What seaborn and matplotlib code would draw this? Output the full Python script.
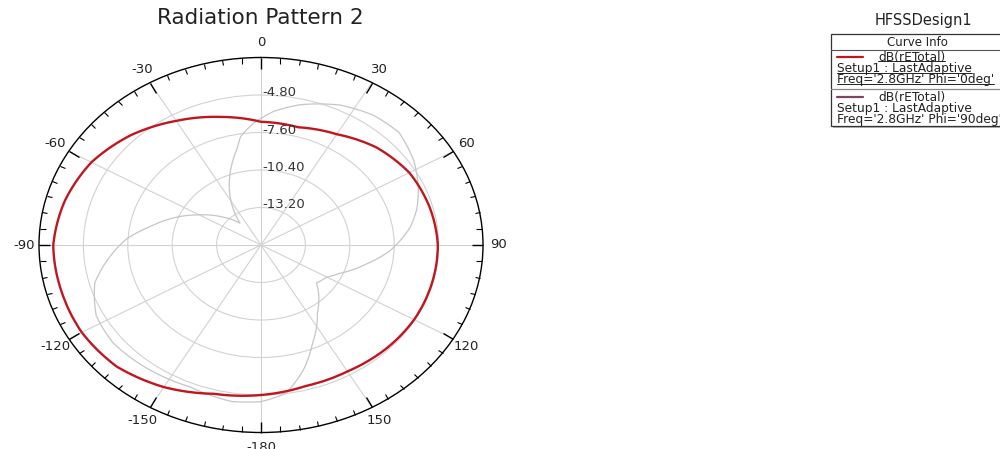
import numpy as np
import matplotlib
matplotlib.use("Agg")
import matplotlib.pyplot as plt
import matplotlib.transforms as mtransforms
from matplotlib.lines import Line2D
from matplotlib.patches import Rectangle
import seaborn as sns

# Phi = 0deg cut: angle (deg) and dB(rETotal)
red_theta = [-180, -165, -150, -135, -120, -105, -90, -75, -60, -45, -30, -15,
             0, 15, 30, 45, 60, 75, 90, 105, 120, 135, 150, 165, 180]
red_db = [-4.8, -4.5, -3.75, -3.15, -2.95, -2.95, -2.9, -3.2, -3.65, -4.4, -5.3, -6.1,
          -6.8, -6.9, -6.45, -5.7, -5.2, -5.0, -4.85, -4.85, -4.85, -4.95, -5.1, -5.1, -4.8]

# Phi = 90deg cut
gray_theta = [-180, -171, -157, -143, -128, -117, -105, -97, -87, -79, -70, -60, -50,
              -39, -31, -21, -12, -9, -3, 4.5, 13, 25.5, 36, 46, 57, 67.5, 75, 82,
              93, 102, 113, 120, 129, 145, 156, 164, 172, 180]
gray_db = [-4.3, -4.17, -4.5, -4.33, -4.15, -4.34, -5.15, -6.2, -7.5, -8.86, -10.1, -11.5, -12.7,
           -13.9, -12.4, -10.5, -8.7, -7.8, -6.9, -6.0, -5.26, -4.42, -4.0, -3.9, -4.5, -5.26, -5.84, -6.5,
           -7.85, -9.2, -10.6, -11.2, -11.5, -9.8, -8.0, -6.3, -4.8, -4.3]

ring_values = [-13.2, -10.4, -7.6, -4.8]
r_min, r_max = -16.0, -2.0

angle_ticks = [0, 30, 60, 90, 120, 150, 180, 210, 240, 270, 300, 330]
angle_labels = ["0", "30", "60", "90", "120", "150", "-180", "-150", "-120", "-90", "-60", "-30"]

legend_entries = [
    ("dB(rETotal)", "Setup1 : LastAdaptive", "Freq='2.8GHz' Phi='0deg'"),
    ("dB(rETotal)", "Setup1 : LastAdaptive", "Freq='2.8GHz' Phi='90deg'"),
]
legend_colors = ["#c0161e", "#7d4464"]

sns.set_style("white")
plt.rcParams["font.family"] = ["DejaVu Sans"]

W, H = 1000, 449
fig = plt.figure(figsize=(W / 100, H / 100), dpi=100)
fig.patch.set_facecolor("white")


def fx(x):
    return x / W


def fy(y):
    return 1 - y / H


# elliptical polar frame
ax = fig.add_axes([fx(39), fy(432.5), 444 / W, 375 / H], projection="polar")
ax.set_aspect("auto")
ax.set_facecolor("white")
ax.set_theta_zero_location("N")
ax.set_theta_direction(-1)
ax.set_ylim(r_min, r_max)

ax.set_xticks(np.deg2rad(angle_ticks))
ax.set_xticklabels(angle_labels)
ax.set_xticks(np.deg2rad(np.arange(0, 360, 5)), minor=True)
# ticks only on the outer rim
ax.tick_params(axis="x", which="both", bottom=False, top=True)
ax.tick_params(axis="x", which="major", direction="in", length=8, width=1.0,
               color="black", pad=4, labelsize=9.5, labelcolor="#222222")
ax.tick_params(axis="x", which="minor", direction="in", length=4, width=0.8, color="black")
ax.set_yticks(ring_values)
ax.set_yticklabels([])
ax.tick_params(axis="y", length=0)
ax.grid(True, which="major", color="#d2d2d2", linewidth=0.8)
ax.grid(False, which="minor")
ax.spines["polar"].set_color("black")
ax.spines["polar"].set_linewidth(1.0)

sns.lineplot(x=np.deg2rad(gray_theta), y=gray_db, ax=ax, color="#c6c6c6",
             linewidth=0.9, sort=False, estimator=None, legend=False)
sns.lineplot(x=np.deg2rad(red_theta), y=red_db, ax=ax, color="#c0161e",
             linewidth=1.7, sort=False, estimator=None, legend=False)
ax.set_xlabel("")
ax.set_ylabel("")
# draw each segment as a curve in polar space rather than a straight chord
for ln in ax.lines:
    ln.get_path()._interpolation_steps = 24

ring_tf = mtransforms.offset_copy(ax.transData, fig=fig, x=1, y=2.5, units="dots")
for rv in ring_values:
    ax.text(0, rv, f"{rv:.2f}", transform=ring_tf, ha="left", va="center",
            fontsize=9.5, color="#333333")

fig.text(fx(260), fy(18), "Radiation Pattern 2", ha="center", va="center",
         fontsize=15.5, color="#222222")

# curve info box
fig.text(fx(923), fy(21), "HFSSDesign1", ha="center", va="center", fontsize=10.5, color="#222222")
box_top, box_bot, box_left, box_right = 34, 126, 831, 1012
fig.add_artist(Rectangle((fx(box_left + 2), fy(box_bot + 2)), (box_right - box_left) / W,
                         (box_bot - box_top) / H, transform=fig.transFigure,
                         facecolor="#b8b8b8", edgecolor="none"))
fig.add_artist(Rectangle((fx(box_left), fy(box_bot)), (box_right - box_left) / W,
                         (box_bot - box_top) / H, transform=fig.transFigure,
                         facecolor="white", edgecolor="#333333", linewidth=0.9))
fig.add_artist(Line2D([fx(box_left), fx(box_right)], [fy(49.5), fy(49.5)],
                      transform=fig.transFigure, color="#555555", linewidth=0.8))
fig.add_artist(Line2D([fx(box_left), fx(box_right)], [fy(88.5), fy(88.5)],
                      transform=fig.transFigure, color="#888888", linewidth=0.9))
fig.text(fx(917), fy(42), "Curve Info", ha="center", va="center", fontsize=8.5, color="#222222")

row_y = [(57, 68.5, 80), (97, 108.5, 120)]
underlined = []
for (name, setup, freq), color, ys, sel in zip(legend_entries, legend_colors, row_y, [True, False]):
    fig.add_artist(Line2D([fx(837), fx(863)], [fy(ys[0]), fy(ys[0])],
                          transform=fig.transFigure, color=color, linewidth=1.6))
    t1 = fig.text(fx(878), fy(ys[0]), name, ha="left", va="center", fontsize=8.8, color="#222222")
    t2 = fig.text(fx(837), fy(ys[1]), setup, ha="left", va="center", fontsize=8.8, color="#222222")
    t3 = fig.text(fx(837), fy(ys[2]), freq, ha="left", va="center", fontsize=8.8, color="#222222")
    if sel:
        underlined += [t1, t2, t3]

fig.canvas.draw()
renderer = fig.canvas.get_renderer()
for t in underlined:
    bb = t.get_window_extent(renderer)
    yl = bb.y0 + 2.2
    fig.add_artist(Line2D([bb.x0, bb.x1], [yl, yl], transform=mtransforms.IdentityTransform(),
                          color="#222222", linewidth=0.7))

fig.savefig("out.png", dpi=100)
